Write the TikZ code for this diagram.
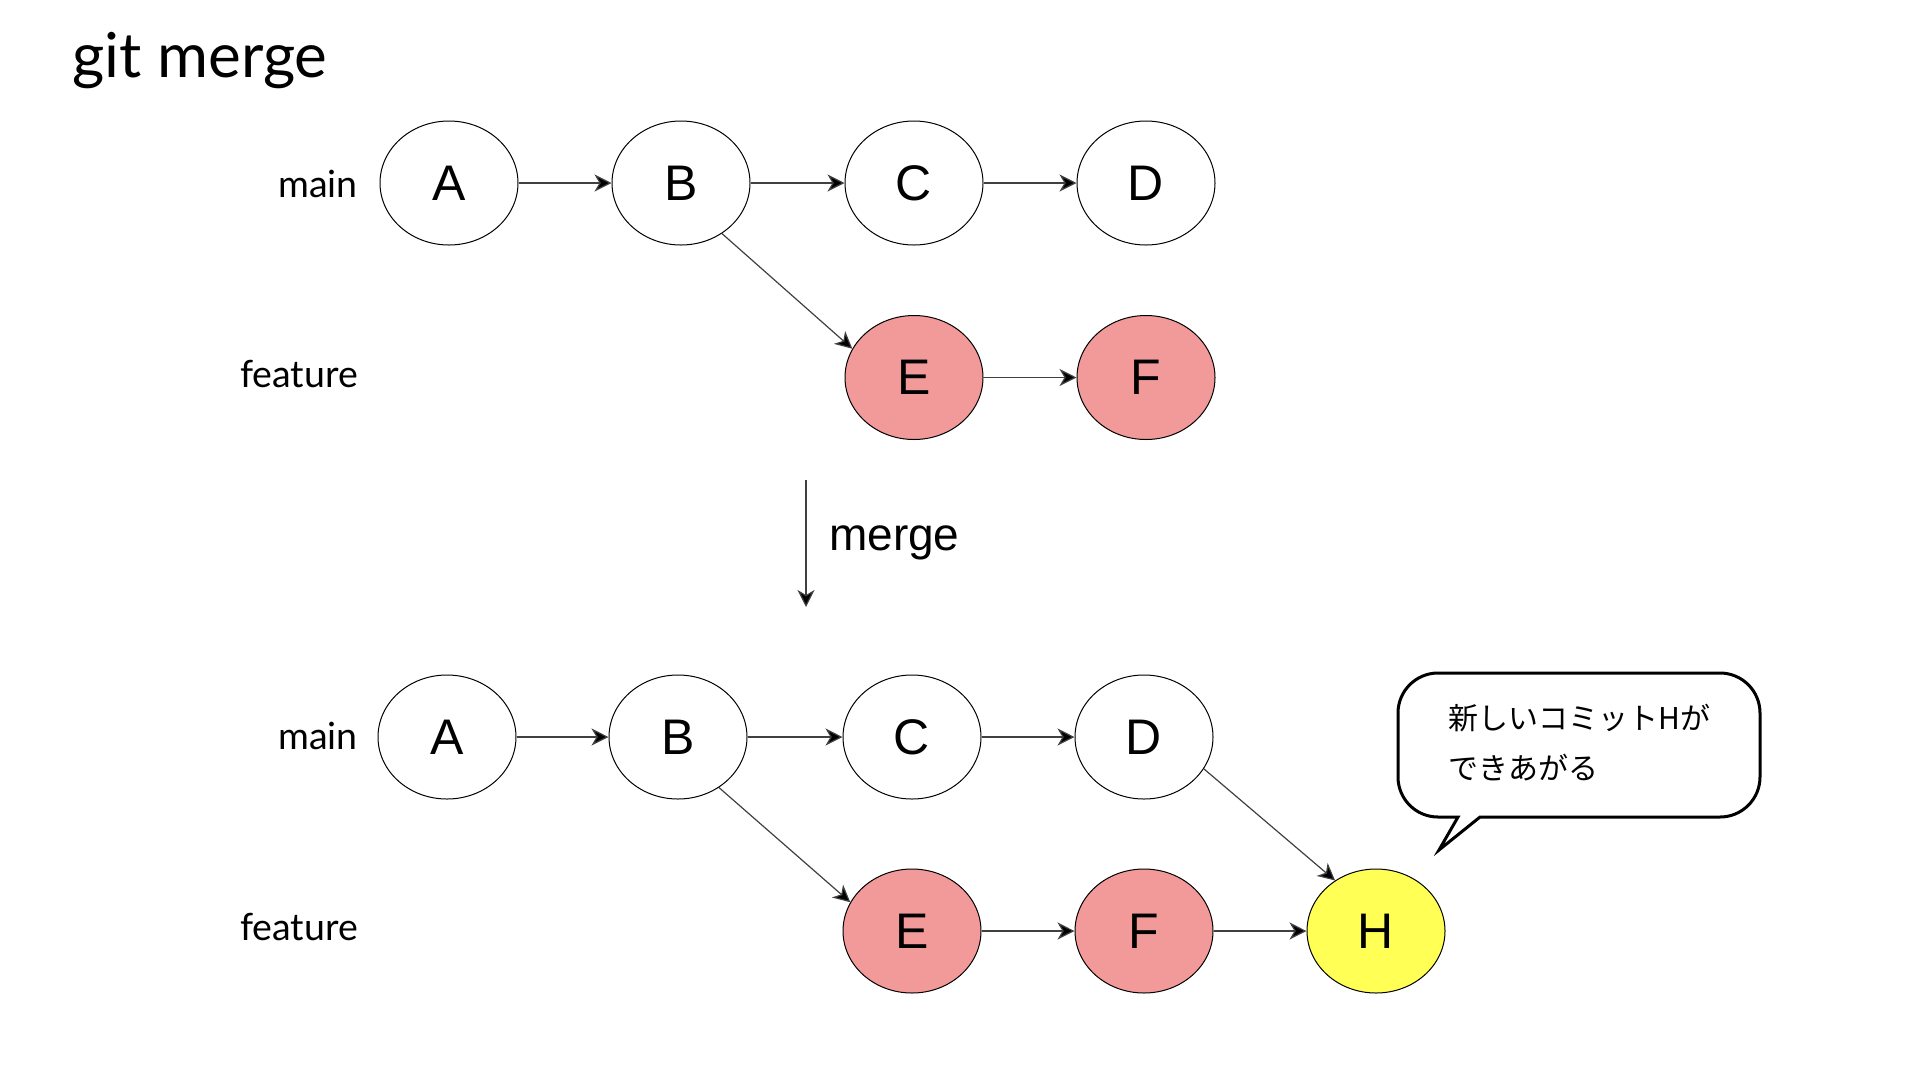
\documentclass[tikz,border=0pt]{standalone}
\usepackage{fontspec}
\setmainfont{Liberation Sans}
\newfontfamily\latofont{Lato}
\newfontfamily\jpfont{Noto Sans CJK JP}
\usetikzlibrary{shapes.geometric,arrows.meta}
\definecolor{commitpink}{HTML}{F29A9A}
\definecolor{commityellow}{HTML}{FFFF55}
\tikzset{
  commit/.style={ellipse, draw=black, line width=1pt, minimum width=138pt, minimum height=124pt, inner sep=0pt, fill=white, font=\fontsize{50}{60}\selectfont},
  pinkcommit/.style={commit, fill=commitpink},
  yellowcommit/.style={commit, fill=commityellow},
  conn/.style={draw=black!75, line width=1.2pt, -{Stealth[length=17pt,width=17pt,inset=5pt,fill=black]}},
  branchlabel/.style={anchor=base east, inner sep=0pt, font=\latofont\fontsize{37.5}{45}\selectfont},
}
\begin{document}
\begin{tikzpicture}[x=1pt,y=-1pt]
\useasboundingbox (0,0) rectangle (1920,1080);
% title
\node[anchor=base west, inner sep=0pt, font=\latofont\fontsize{62}{74}\selectfont] (title) at (72,77) {git merge};
% top graph
\node[branchlabel] (tmain) at (358,197) {main};
\node[branchlabel] (tfeat) at (358,387) {feature};
\node[commit] (tA) at (449,183) {A};
\node[commit] (tB) at (681,183) {B};
\node[commit] (tC) at (914,183) {C};
\node[commit] (tD) at (1146,183) {D};
\node[pinkcommit] (tE) at (914,377.5) {E};
\node[pinkcommit] (tF) at (1146,377.5) {F};
\draw[conn] (tA) -- (tB);
\draw[conn] (tB) -- (tC);
\draw[conn] (tC) -- (tD);
\draw[conn] (tB.-51) -- (tE.155);
\draw[conn] (tE) -- (tF);
% merge arrow
\coordinate (m1) at (806,480);
\coordinate (m2) at (806,607);
\draw[conn] (m1) -- (m2);
\node[anchor=base west, inner sep=0pt, font=\fontsize{46}{55}\selectfont] (mlabel) at (829,550) {merge};
% bottom graph
\node[branchlabel] (bmain) at (358,749) {main};
\node[branchlabel] (bfeat) at (358,940) {feature};
\node[commit] (bA) at (447,737) {A};
\node[commit] (bB) at (678,737) {B};
\node[commit] (bC) at (912,737) {C};
\node[commit] (bD) at (1144,737) {D};
\node[pinkcommit] (bE) at (912,931) {E};
\node[pinkcommit] (bF) at (1144,931) {F};
\node[yellowcommit] (bH) at (1376,931) {H};
\draw[conn] (bA) -- (bB);
\draw[conn] (bB) -- (bC);
\draw[conn] (bC) -- (bD);
\draw[conn] (bB.-51) -- (bE.155);
\draw[conn] (bE) -- (bF);
\draw[conn] (bF) -- (bH);
\draw[conn] (bD.-28) -- (bH.129);
% callout
\draw[line width=3pt, fill=white, line join=miter]
  (1480,817) -- (1720,817) arc[start angle=90, end angle=0, radius=40]
  -- (1760,713) arc[start angle=0, end angle=-90, radius=40]
  -- (1438,673) arc[start angle=-90, end angle=-180, radius=40]
  -- (1398,777) arc[start angle=180, end angle=90, radius=40]
  -- (1458,817) -- (1439,850) -- cycle;
\node[anchor=west, align=left, inner sep=0pt, font=\jpfont\fontsize{30}{50}\selectfont] (callout) at (1448,743) {新しいコミットHが\\できあがる};
\end{tikzpicture}
\end{document}
